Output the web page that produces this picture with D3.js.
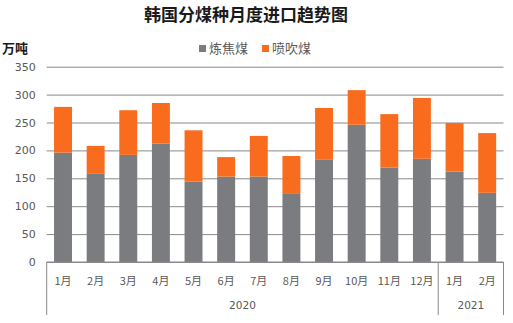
<!DOCTYPE html>
<html>
<head>
<meta charset="utf-8">
<script src="https://cdn.jsdelivr.net/npm/d3@7/dist/d3.min.js"></script>
<style>
  html, body { margin: 0; padding: 0; background: #fff; }
  svg { display: block; font-family: "Microsoft YaHei", "Noto Sans CJK SC", "DejaVu Sans", sans-serif; }
</style>
</head>
<body>
<svg id="chart" width="513" height="323"></svg>
<script>
// Monthly imports by coal type (万吨)
const months = ["1月", "2月", "3月", "4月", "5月", "6月", "7月", "8月", "9月", "10月", "11月", "12月", "1月", "2月"];
const years = ["2020", "2020", "2020", "2020", "2020", "2020", "2020", "2020", "2020", "2020", "2020", "2020", "2021", "2021"];
const coking = [196, 158, 192, 212, 144, 153, 153, 122, 184, 246, 169, 185, 162, 124];
const pci = [82, 50, 80, 73, 92, 35, 73, 68, 92, 62, 96, 109, 87, 107];
const seriesNames = ["炼焦煤", "喷吹煤"];
const seriesColors = ["#7b7c80", "#f96b1d"];
const yTicks = [0, 50, 100, 150, 200, 250, 300, 350];

const svg = d3.select("#chart");
const margin = { left: 46.7, right: 503.5, top: 66.7, bottom: 262 };

const keys = months.map((m, i) => i);
const x = d3.scaleBand().domain(keys).range([margin.left, margin.right]).paddingInner(0.45).paddingOuter(0.225);
const y = d3.scaleLinear().domain([0, 350]).range([margin.bottom, margin.top]);

// Title
svg.append("text").attr("x", 246).attr("y", 21).attr("text-anchor", "middle")
  .attr("font-size", 17).attr("font-weight", "bold").attr("fill", "#1a1a1a")
  .text("韩国分煤种月度进口趋势图");

// Unit label
svg.append("text").attr("x", 2).attr("y", 53)
  .attr("font-size", 13).attr("font-weight", "bold").attr("fill", "#1a1a1a")
  .text("万吨");

// Legend
const legend = svg.append("g");
const legendX = [199, 262];
seriesNames.forEach((name, i) => {
  legend.append("rect").attr("x", legendX[i]).attr("y", 45).attr("width", 7).attr("height", 7).attr("fill", seriesColors[i]);
  legend.append("text").attr("x", legendX[i] + 10).attr("y", 53).attr("font-size", 13).attr("fill", "#595959").text(name);
});

// Gridlines and y tick labels
const yAxis = d3.axisLeft(y).tickValues(yTicks).tickSize(-(margin.right - margin.left)).tickPadding(11);
const gy = svg.append("g").attr("transform", `translate(${margin.left},0)`).call(yAxis);
gy.select(".domain").remove();
gy.selectAll(".tick line").attr("stroke", "#898989").attr("stroke-width", 1);
gy.selectAll(".tick text").attr("font-size", 11).attr("fill", "#595959")
  .attr("font-family", "'DejaVu Sans', sans-serif");

// Stacked bars
const rows = keys.map(i => ({ i, coking: coking[i], pci: pci[i] }));
const stack = d3.stack().keys(["coking", "pci"]);
const layers = stack(rows);
svg.append("g").selectAll("g").data(layers).join("g")
  .attr("fill", (d, k) => seriesColors[k])
  .selectAll("rect").data(d => d).join("rect")
  .attr("x", d => x(d.data.i))
  .attr("width", x.bandwidth())
  .attr("y", d => y(d[1]))
  .attr("height", d => y(d[0]) - y(d[1]));

// Category axis: baseline plus group separators
const axisColor = "#898989";
svg.append("line").attr("x1", margin.left).attr("x2", margin.right)
  .attr("y1", margin.bottom).attr("y2", margin.bottom).attr("stroke", axisColor);

const step = x.step();
const edge = i => margin.left + i * step;
const groups = [];
years.forEach((yr, i) => {
  const g = groups[groups.length - 1];
  if (g && g.year === yr) g.end = i; else groups.push({ year: yr, start: i, end: i });
});
const sepIdx = [0, ...groups.map(g => g.end + 1)];
sepIdx.forEach(i => {
  svg.append("line").attr("x1", edge(i)).attr("x2", edge(i))
    .attr("y1", margin.bottom).attr("y2", 315).attr("stroke", axisColor);
});

svg.append("g").selectAll("text").data(months).join("text")
  .attr("x", (d, i) => x(i) + x.bandwidth() / 2)
  .attr("y", 285).attr("text-anchor", "middle")
  .attr("font-size", 11).attr("fill", "#595959").text(d => d);

svg.append("g").selectAll("text").data(groups).join("text")
  .attr("x", g => (edge(g.start) + edge(g.end + 1)) / 2)
  .attr("y", 309).attr("text-anchor", "middle")
  .attr("font-size", 10.5).attr("fill", "#595959")
  .attr("font-family", "'DejaVu Sans', sans-serif")
  .text(g => g.year);
</script>
</body>
</html>
